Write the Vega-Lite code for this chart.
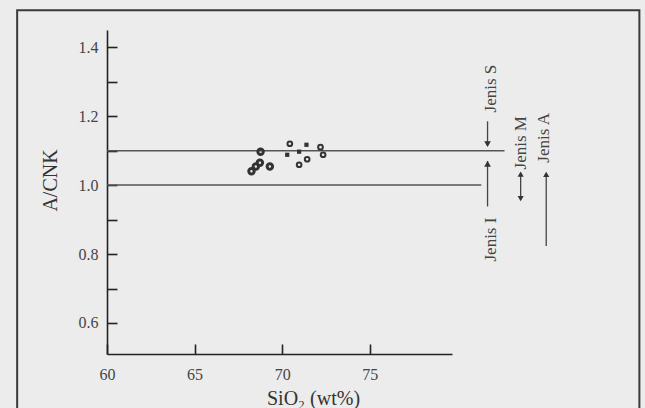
{
  "$schema": "https://vega.github.io/schema/vega-lite/v6.json",
  "autosize": {"type": "none"},
  "width": 345,
  "height": 324,
  "padding": {"left": 107, "top": 30, "right": 193, "bottom": 54},
  "background": "#ececec",
  "config": {
    "view": {"stroke": null},
    "font": "Liberation Serif",
    "axis": {"grid": false, "labelFlush": false, "domainColor": "#222", "domainWidth": 1.6, "tickColor": "#222", "tickWidth": 1.6, "tickSize": -10, "labelFont": "Liberation Serif", "labelFontSize": 16, "labelColor": "#444", "titleFont": "Liberation Serif", "titleFontWeight": "normal", "titleColor": "#333", "titleFontSize": 20}
  },
  "datasets": {
    "pts": [
      {"sio2": 68.25, "acnk": 1.040, "grp": "dot"},
      {"sio2": 68.50, "acnk": 1.054, "grp": "dot"},
      {"sio2": 68.77, "acnk": 1.097, "grp": "dot"},
      {"sio2": 68.73, "acnk": 1.065, "grp": "dot"},
      {"sio2": 69.30, "acnk": 1.054, "grp": "dot"},
      {"sio2": 70.44, "acnk": 1.120, "grp": "open"},
      {"sio2": 70.29, "acnk": 1.088, "grp": "square"},
      {"sio2": 70.97, "acnk": 1.097, "grp": "square"},
      {"sio2": 71.39, "acnk": 1.117, "grp": "square"},
      {"sio2": 70.97, "acnk": 1.059, "grp": "open"},
      {"sio2": 71.43, "acnk": 1.075, "grp": "open"},
      {"sio2": 72.19, "acnk": 1.110, "grp": "open"},
      {"sio2": 72.34, "acnk": 1.088, "grp": "open"}
    ],
    "frame": [{"x1": 54.87, "x2": 90.4, "y1": 1.507, "y2": 0.3}],
    "hlines": [{"y": 1.1, "x1": 60, "x2": 82.7}, {"y": 1.0, "x1": 60, "x2": 81.37}],
    "shafts": [
      {"x": 81.73, "y1": 1.185, "y2": 1.115},
      {"x": 81.73, "y1": 0.938, "y2": 1.07},
      {"x": 83.62, "y1": 0.958, "y2": 1.035},
      {"x": 85.08, "y1": 0.823, "y2": 1.035}
    ],
    "heads": [
      {"x": 81.73, "y": 1.119, "dir": "down", "kind": "big"},
      {"x": 81.73, "y": 1.062, "dir": "up", "kind": "big"},
      {"x": 83.62, "y": 1.032, "dir": "up", "kind": "small"},
      {"x": 83.62, "y": 0.961, "dir": "down", "kind": "small"},
      {"x": 85.08, "y": 1.031, "dir": "up", "kind": "small"}
    ],
    "labels": [
      {"x": 81.94, "y": 1.280, "t": "Jenis S"},
      {"x": 81.94, "y": 0.842, "t": "Jenis I"},
      {"x": 83.66, "y": 1.123, "t": "Jenis M"},
      {"x": 84.98, "y": 1.137, "t": "Jenis A"}
    ]
  },
  "layer": [
    {
      "data": {"name": "frame"},
      "mark": {"type": "rect", "fill": null, "stroke": "#3a3a3a", "strokeWidth": 2, "clip": false},
      "encoding": {
        "x": {"field": "x1", "type": "quantitative", "scale": {"domain": [60, 79.7], "nice": false, "zero": false}, "axis": {"values": [60, 65, 70, 75], "title": "SiO₂ (wt%)", "labelPadding": 22, "titleX": 206, "titleY": 44, "titleBaseline": "middle", "titleAlign": "center"}},
        "x2": {"field": "x2"},
        "y": {"field": "y1", "type": "quantitative", "scale": {"domain": [0.51, 1.45], "nice": false, "zero": false}, "axis": {"values": [0.6, 0.7, 0.8, 0.9, 1.0, 1.1, 1.2, 1.3, 1.4], "labelExpr": "round(datum.value*10) % 2 == 0 ? format(datum.value, '.1f') : ''", "title": "A/CNK", "labelPadding": 19, "titleX": -57, "titleY": 150, "titleBaseline": "middle", "titleAlign": "center"}},
        "y2": {"field": "y2"}
      }
    },
    {
      "data": {"name": "hlines"},
      "mark": {"type": "rule", "color": "#555", "strokeWidth": 1.5, "clip": false},
      "encoding": {
        "x": {"field": "x1", "type": "quantitative"},
        "x2": {"field": "x2"},
        "y": {"field": "y", "type": "quantitative"}
      }
    },
    {
      "data": {"name": "shafts"},
      "mark": {"type": "rule", "color": "#444", "strokeWidth": 1.3, "clip": false},
      "encoding": {
        "x": {"field": "x", "type": "quantitative"},
        "y": {"field": "y1", "type": "quantitative"},
        "y2": {"field": "y2"}
      }
    },
    {
      "data": {"name": "heads"},
      "mark": {"type": "point", "filled": true, "color": "#333", "opacity": 1, "clip": false},
      "encoding": {
        "x": {"field": "x", "type": "quantitative"},
        "y": {"field": "y", "type": "quantitative"},
        "shape": {"field": "dir", "type": "nominal", "scale": {"domain": ["up", "down"], "range": ["triangle-up", "triangle-down"]}, "legend": null},
        "size": {"field": "kind", "type": "nominal", "scale": {"domain": ["big", "small"], "range": [45, 22]}, "legend": null}
      }
    },
    {
      "data": {"name": "labels"},
      "mark": {"type": "text", "angle": 270, "align": "center", "baseline": "middle", "font": "Liberation Serif", "fontSize": 17, "color": "#444", "clip": false},
      "encoding": {
        "x": {"field": "x", "type": "quantitative"},
        "y": {"field": "y", "type": "quantitative"},
        "text": {"field": "t"}
      }
    },
    {
      "data": {"name": "pts"},
      "transform": [{"filter": "datum.grp != 'square'"}],
      "mark": {"type": "point", "shape": "circle", "filled": false, "color": "#333", "opacity": 1},
      "encoding": {
        "x": {"field": "sio2", "type": "quantitative"},
        "y": {"field": "acnk", "type": "quantitative"},
        "size": {"field": "grp", "type": "nominal", "scale": {"domain": ["dot", "open"], "range": [36, 50]}, "legend": null},
        "strokeWidth": {"field": "grp", "type": "nominal", "scale": {"domain": ["dot", "open"], "range": [3, 2]}, "legend": null}
      }
    },
    {
      "data": {"name": "pts"},
      "transform": [{"filter": "datum.grp == 'square'"}],
      "mark": {"type": "point", "shape": "square", "filled": true, "color": "#333", "opacity": 1, "size": 18},
      "encoding": {
        "x": {"field": "sio2", "type": "quantitative"},
        "y": {"field": "acnk", "type": "quantitative"}
      }
    }
  ]
}
